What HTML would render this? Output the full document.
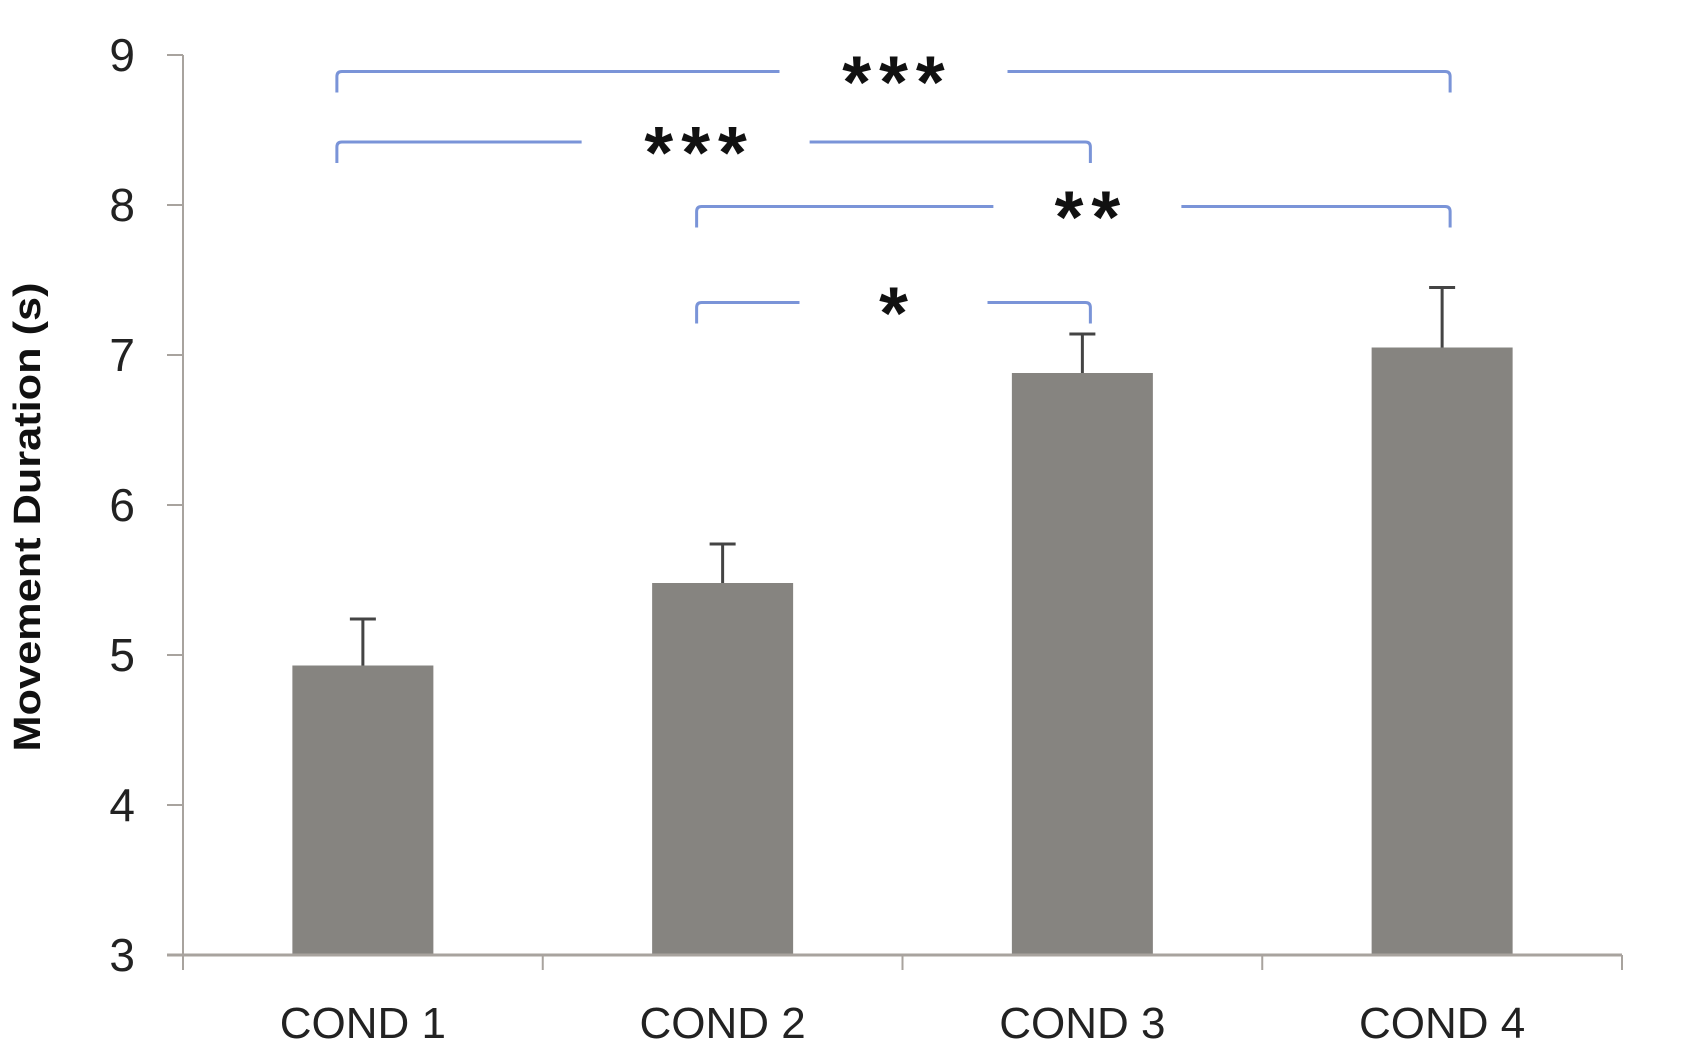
<!DOCTYPE html>
<html><head><meta charset="utf-8"><style>
html,body{margin:0;padding:0;background:#fff;width:1687px;height:1052px;overflow:hidden}
svg{display:block}
text{font-family:"Liberation Sans",sans-serif}
</style></head><body>
<svg id="chart" width="1687" height="1052" viewBox="0 0 1687 1052"></svg>
<script>
const categories = ["COND 1","COND 2","COND 3","COND 4"];
const means = [4.93, 5.48, 6.88, 7.05];
const errors = [0.31, 0.26, 0.26, 0.40];
const yTicks = [3,4,5,6,7,8,9];
const sigFrom = [0, 0, 1, 1];
const sigTo = [3, 2, 3, 2];
const sigLevel = [8.89, 8.42, 7.99, 7.35];
const sigLabel = ["***","***","**","*"];

const NS="http://www.w3.org/2000/svg";
const svg=document.getElementById('chart');
const X0=183, X1=1622, Y0=955, YTOP=55, VMIN=3, VMAX=9;
const labelShift=[0,-18,14,0];
const catW=(X1-X0)/categories.length;
function xC(i){return X0+catW*(i+0.5);}
function yV(v){return Y0-(v-VMIN)/(VMAX-VMIN)*(Y0-YTOP);}
function mk(tag,attrs){const e=document.createElementNS(NS,tag);for(const k in attrs)e.setAttribute(k,attrs[k]);svg.appendChild(e);return e;}

let e=mk('line',{x1:X0,y1:YTOP,x2:X0,y2:Y0,stroke:'#a8a39e','stroke-width':2});


yTicks.forEach(t=>{
  let l=mk('line',{x1:X0-16,y1:yV(t),x2:X0,y2:yV(t),stroke:'#a8a39e','stroke-width':2});
  
  
  let tx=mk('text',{x:135,y:yV(t)+16,'text-anchor':'end','font-size':46,fill:'#222'});
  tx.textContent=t;
  
  
});
const barW=141;
categories.forEach((c,i)=>{
  const cx=xC(i);
  let b=mk('rect',{x:cx-barW/2,y:yV(means[i]),width:barW,height:Y0-yV(means[i]),fill:'#868480'});
  
  
  let eb=mk('path',{d:`M${cx},${yV(means[i])} V${yV(means[i]+errors[i])} M${cx-13},${yV(means[i]+errors[i])} H${cx+13}`,stroke:'#444',fill:'none','stroke-width':3});
  
  
  let lb=mk('text',{x:cx,y:1038,'text-anchor':'middle','font-size':44,fill:'#222'});
  lb.textContent=c;
  
  
});
e=mk('line',{x1:X0-16,y1:Y0,x2:X1,y2:Y0,stroke:'#a8a39e','stroke-width':3});


for(let i=0;i<=categories.length;i++){
  let l=mk('line',{x1:X0+catW*i,y1:Y0,x2:X0+catW*i,y2:970,stroke:'#a8a39e','stroke-width':2});
  
  
}
let yt=mk('text',{x:0,y:0,transform:'translate(40,517) rotate(-90)','text-anchor':'middle','font-size':38,'font-weight':'bold',fill:'#111',textLength:469,lengthAdjust:'spacingAndGlyphs'});
yt.textContent='Movement Duration (s)';


sigFrom.forEach((f,k)=>{
  const xl=xC(f)-26, xr=xC(sigTo[k])+8, y=yV(sigLevel[k]);
  const mid=(xl+xr)/2+labelShift[k];
  const gap=sigLabel[k].length>=3?228:188;
  const r=5, drop=21;
  let p=mk('path',{d:`M${xl},${y+drop} V${y+r} Q${xl},${y} ${xl+r},${y} H${mid-gap/2} M${mid+gap/2},${y} H${xr-r} Q${xr},${y} ${xr},${y+r} V${y+drop}`,stroke:'#7a94d8',fill:'none','stroke-width':3});
  
  
  let s=mk('text',{x:mid+4,y:y+36,'text-anchor':'middle','font-size':74,'font-weight':'bold','letter-spacing':8,fill:'#111'});
  s.textContent=sigLabel[k];
  
  
});
</script>
</body></html>
